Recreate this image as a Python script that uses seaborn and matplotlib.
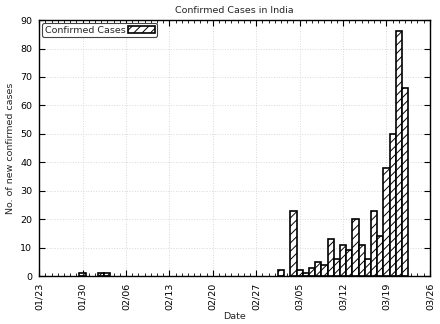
import numpy as np
import pandas as pd
import seaborn as sns
import matplotlib
matplotlib.use("Agg")
from matplotlib import pyplot as plt
import matplotlib.dates as mdates

# daily new confirmed cases (days not listed had 0)
dates = ['2020-01-30', '2020-02-02', '2020-02-03', '2020-03-02', '2020-03-04',
         '2020-03-05', '2020-03-06', '2020-03-07', '2020-03-08', '2020-03-09',
         '2020-03-10', '2020-03-11', '2020-03-12', '2020-03-13', '2020-03-14',
         '2020-03-15', '2020-03-16', '2020-03-17', '2020-03-18', '2020-03-19',
         '2020-03-20', '2020-03-21', '2020-03-22']
cases = [1, 1, 1, 2, 23, 2, 1, 3, 5, 4, 13, 6, 11, 9, 20, 11, 6, 23, 14, 38, 50, 86, 66]

tick_dates = ['2020-01-23', '2020-01-30', '2020-02-06', '2020-02-13', '2020-02-20',
              '2020-02-27', '2020-03-05', '2020-03-12', '2020-03-19', '2020-03-26']

df = pd.DataFrame({'date': pd.to_datetime(dates), 'cases': cases})
df['dnum'] = mdates.date2num(df['date'])

sns.set_style("white")
plt.rcParams['font.family'] = ['DejaVu Sans']
plt.rcParams['font.size'] = 6.5
plt.rcParams['hatch.linewidth'] = 0.7

fig = plt.figure(figsize=(4.4, 3.24), dpi=100)
ax = fig.add_axes([0.089, 0.148, 0.888, 0.79])

sns.barplot(data=df, x='dnum', y='cases', native_scale=True, width=1.0,
            color='white', edgecolor='black', linewidth=1.2, hatch='////',
            label='Confirmed Cases', ax=ax, errorbar=None)

ticks = mdates.date2num(pd.to_datetime(tick_dates))
ax.set_xlim(ticks[0], ticks[-1])
ax.set_ylim(0, 90)
ax.set_xticks(ticks)
ax.xaxis.set_major_formatter(mdates.DateFormatter('%m/%d'))
ax.xaxis.set_minor_locator(mdates.DayLocator())
ax.set_yticks(np.arange(0, 91, 10))
plt.setp(ax.get_xticklabels(), rotation=90)

ax.tick_params(which='both', direction='in', top=True, right=True, bottom=True, left=True,
               colors='black', labelsize=6.8)
ax.tick_params(which='major', length=4, width=0.8)
ax.tick_params(which='minor', length=2, width=0.6)
ax.tick_params(axis='x', pad=5)
ax.tick_params(axis='y', pad=5)
for s in ax.spines.values():
    s.set_color('black')
    s.set_linewidth(1.0)

ax.grid(True, which='major', linestyle=':', color='#d8d8d8', linewidth=0.7)
ax.set_axisbelow(True)

ax.set_xlabel('Date', fontsize=6.8, labelpad=1)
ax.set_ylabel('No. of new confirmed cases', fontsize=6.8, labelpad=4)
ax.set_title('Confirmed Cases in India', fontsize=6.8, pad=5)

leg = ax.legend(loc='upper left', markerfirst=False, fontsize=6.8, handlelength=2.8,
                borderpad=0.25, borderaxespad=0.35, handletextpad=0.3, framealpha=1)
leg.get_frame().set_edgecolor('#444444')
leg.get_frame().set_linewidth(0.8)

fig.savefig('out.png', dpi=100)
